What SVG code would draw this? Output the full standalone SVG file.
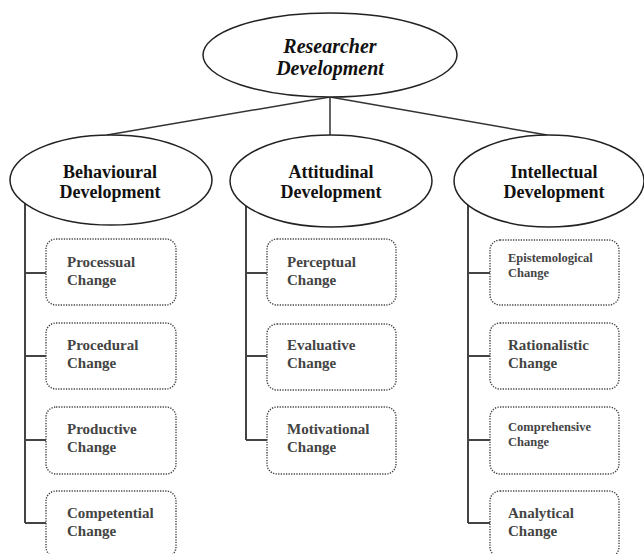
<svg xmlns="http://www.w3.org/2000/svg" width="644" height="554" viewBox="0 0 644 554">
<style>
.ell{fill:#fff;stroke:#222;stroke-width:1.5}
.box{fill:#fff;stroke:#444;stroke-width:1.4;stroke-dasharray:1.3 1.3}
.con{stroke:#333;stroke-width:1.5;fill:none}
.tree{stroke:#444;stroke-width:2;fill:none}
.h{font-family:"Liberation Serif","Times New Roman",serif;font-weight:bold;font-size:18px;fill:#111;text-anchor:middle}
.t{font-family:"Liberation Serif","Times New Roman",serif;font-weight:bold;font-size:15px;fill:#444}
.s{font-size:12.5px}
</style>
<rect width="644" height="554" fill="#fff"/>
<g id="connectors">
<path class="con" d="M330 97 L107 135 M330 97 L330 135 M330 97 L547 135"/>
<path class="tree" d="M25 200 V523 M25 273 H46 M25 356 H46 M25 440 H46 M25 523 H46"/>
<path class="tree" d="M246 200 V440 M246 273 H267 M246 356 H267 M246 440 H267"/>
<path class="tree" d="M468 200 V523 M468 273 H490 M468 356 H490 M468 440 H490 M468 523 H490"/>
</g>
<g id="researcher">
<ellipse class="ell" cx="330" cy="55" rx="127" ry="42"/>
<text class="h" x="330" y="53" font-style="italic" style="font-size:20px">Researcher</text>
<text class="h" x="330" y="75" font-style="italic" style="font-size:20px">Development</text>
</g>
<g id="behavioural">
<ellipse class="ell" cx="111" cy="180" rx="101" ry="45"/>
<text class="h" x="110" y="178">Behavioural</text>
<text class="h" x="110" y="198">Development</text>
</g>
<g id="attitudinal">
<ellipse class="ell" cx="331" cy="181" rx="101" ry="46"/>
<text class="h" x="331" y="178">Attitudinal</text>
<text class="h" x="331" y="198">Development</text>
</g>
<g id="intellectual">
<ellipse class="ell" cx="549" cy="181" rx="95" ry="46"/>
<text class="h" x="554" y="178">Intellectual</text>
<text class="h" x="554" y="198">Development</text>
</g>
<g id="processual"><rect class="box" x="46" y="239" width="130" height="66" rx="10"/><text class="t" x="67" y="267">Processual</text><text class="t" x="67" y="285">Change</text></g>
<g id="procedural"><rect class="box" x="46" y="323" width="130" height="66" rx="10"/><text class="t" x="67" y="350">Procedural</text><text class="t" x="67" y="368">Change</text></g>
<g id="productive"><rect class="box" x="46" y="407" width="130" height="67" rx="10"/><text class="t" x="67" y="434">Productive</text><text class="t" x="67" y="452">Change</text></g>
<g id="competential"><rect class="box" x="46" y="491" width="130" height="66" rx="10"/><text class="t" x="67" y="518">Competential</text><text class="t" x="67" y="536">Change</text></g>
<g id="perceptual"><rect class="box" x="267" y="239" width="129" height="66" rx="10"/><text class="t" x="287" y="267">Perceptual</text><text class="t" x="287" y="285">Change</text></g>
<g id="evaluative"><rect class="box" x="267" y="324" width="129" height="66" rx="10"/><text class="t" x="287" y="350">Evaluative</text><text class="t" x="287" y="368">Change</text></g>
<g id="motivational"><rect class="box" x="267" y="407" width="129" height="67" rx="10"/><text class="t" x="287" y="434">Motivational</text><text class="t" x="287" y="452">Change</text></g>
<g id="epistemological"><rect class="box" x="490" y="240" width="129" height="65" rx="10"/><text class="t s" x="508" y="262">Epistemological</text><text class="t s" x="508" y="277">Change</text></g>
<g id="rationalistic"><rect class="box" x="490" y="323" width="129" height="66" rx="10"/><text class="t" x="508" y="350">Rationalistic</text><text class="t" x="508" y="368">Change</text></g>
<g id="comprehensive"><rect class="box" x="490" y="407" width="129" height="67" rx="10"/><text class="t s" x="508" y="431">Comprehensive</text><text class="t s" x="508" y="446">Change</text></g>
<g id="analytical"><rect class="box" x="490" y="491" width="129" height="66" rx="10"/><text class="t" x="508" y="518">Analytical</text><text class="t" x="508" y="536">Change</text></g>
</svg>
